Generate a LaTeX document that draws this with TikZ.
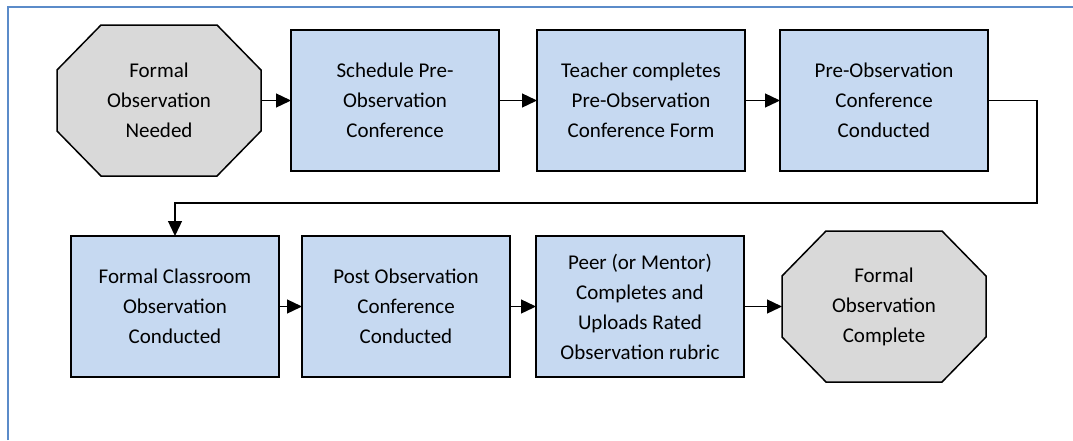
\documentclass[tikz,border=0pt]{standalone}
\usepackage{fontspec}
\setmainfont{Carlito}
\usepackage{tikz}
\usetikzlibrary{positioning, backgrounds, arrows.meta}

\definecolor{stepblue}{HTML}{C6D9F1}
\definecolor{endgray}{HTML}{D9D9D9}
\definecolor{framblue}{HTML}{5B8BC9}

% octagon outline round a named node
\newcommand{\octround}[1]{%
  \draw[line width=1.5pt, fill=endgray]
    ([xshift=44pt]#1.north west) -- ([xshift=-44pt]#1.north east)
    -- ([yshift=-45pt]#1.north east) -- ([yshift=45pt]#1.south east)
    -- ([xshift=-44pt]#1.south east) -- ([xshift=44pt]#1.south west)
    -- ([yshift=45pt]#1.south west) -- ([yshift=-45pt]#1.north west) -- cycle;}

\begin{document}
\begin{tikzpicture}[
    x=1pt, y=1pt,
    every node/.style={font=\fontsize{21}{30}\selectfont, align=center, outer sep=0pt},
    stepbox/.style={rectangle, draw, line width=1.5pt, fill=stepblue,
      minimum width=208pt, minimum height=141pt, inner sep=0pt},
    endpoint/.style={rectangle, minimum width=204pt, minimum height=151pt, inner sep=0pt},
    flow/.style={line width=1.3pt, -{Triangle[length=15pt,width=14pt]}}
  ]
    \useasboundingbox (0,0) rectangle (1073,-440);
    \draw[framblue, line width=1.5pt] (8,-440) -- (8,-7) -- (1073,-7);

    \node[endpoint] (P0) at (159,-100.5) {Formal\\Observation\\Needed};
    \node[stepbox, right=30pt of P0] (P1) {Schedule Pre-\\Observation\\Conference};
    \node[stepbox, right=38pt of P1] (P2) {Teacher completes\\Pre-Observation\\Conference Form};
    \node[stepbox, right=35pt of P2] (P3) {Pre-Observation\\Conference\\Conducted};

    \node[stepbox] (P4) at (175,-306.5) {Formal Classroom\\Observation\\Conducted};
    \node[stepbox, right=23pt of P4] (P5) {Post Observation\\Conference\\Conducted};
    \node[stepbox, right=26pt of P5] (P6) {Peer (or Mentor)\\Completes and\\Uploads Rated\\Observation rubric};
    \node[endpoint, right=38pt of P6] (P7) {Formal\\Observation\\Complete};

    \begin{scope}[on background layer]
      \octround{P0}
      \octround{P7}
    \end{scope}

    % Transitions
    \coordinate (turn) at (1037,-203);
    \draw[flow] (P0) -- (P1);
    \draw[flow] (P1) -- (P2);
    \draw[flow] (P2) -- (P3);
    \draw[flow] (P3.east) -| (turn) -| (P4.north);
    \draw[flow] (P4) -- (P5);
    \draw[flow] (P5) -- (P6);
    \draw[flow] (P6) -- (P7);
  \end{tikzpicture}
\end{document}
